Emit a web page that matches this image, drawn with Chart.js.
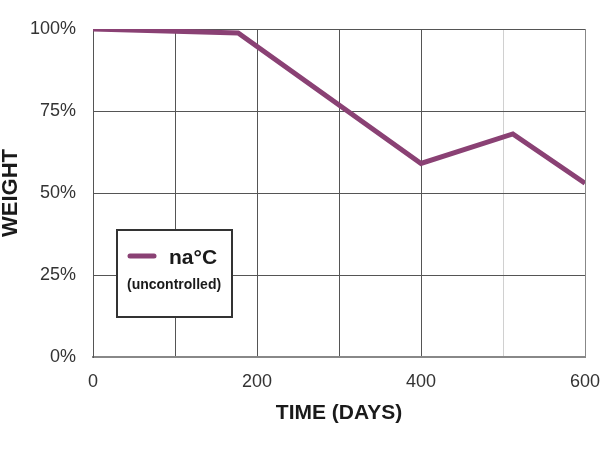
<!DOCTYPE html>
<html>
<head>
<meta charset="utf-8">
<script src="https://cdn.jsdelivr.net/npm/chart.js@4"></script>
<style>
  html, body { margin: 0; padding: 0; background: #fff; }
  #wrap { width: 600px; height: 450px; }
</style>
</head>
<body>
<div id="wrap"><canvas id="chart"></canvas></div>
<script>
// data
var days = [0, 177, 400, 512, 600];
var weight = [100, 98.8, 59, 68, 53];
var xTickLabels = [0, 200, 400, 600];
var yTicks = [0, 25, 50, 75, 100];
var seriesLabel = 'na\u00B0C';
var seriesNote = '(uncontrolled)';

var lineColor = '#8a4174';
var fontFamily = '"Liberation Sans", Arial, sans-serif';

// legend box drawn inside the plot
var boxLegend = {
    id: 'boxLegend',
    afterDraw: function(chart) {
        var ctx = chart.ctx;
        ctx.save();
        ctx.fillStyle = '#fff';
        ctx.fillRect(117, 230, 115, 87);
        ctx.strokeStyle = '#333';
        ctx.lineWidth = 2;
        ctx.strokeRect(117, 230, 115, 87);
        // sample line
        ctx.strokeStyle = lineColor;
        ctx.lineWidth = 5;
        ctx.lineCap = 'round';
        ctx.beginPath();
        ctx.moveTo(130, 256);
        ctx.lineTo(154, 256);
        ctx.stroke();
        ctx.fillStyle = '#1a1a1a';
        ctx.textBaseline = 'middle';
        ctx.textAlign = 'left';
        ctx.font = 'bold 21px ' + fontFamily;
        ctx.fillText(seriesLabel, 169, 258);
        ctx.font = 'bold 14px ' + fontFamily;
        ctx.fillText(seriesNote, 127, 285);
        ctx.restore();
    }
};

var ctx = document.getElementById('chart').getContext('2d');
var chart = new Chart(ctx, {
    type: 'line',
    data: {
        datasets: [{
            label: seriesLabel,
            data: days.map(function(d, i) { return {x: d, y: weight[i]}; }),
            borderColor: lineColor,
            borderWidth: 5,
            pointRadius: 0,
            tension: 0,
            fill: false
        }]
    },
    options: {
        responsive: true,
        maintainAspectRatio: false,
        animation: false,
        layout: { padding: { top: 29, right: 15, left: 0, bottom: 0 } },
        plugins: {
            legend: { display: false },
            tooltip: { enabled: false }
        },
        scales: {
            x: {
                type: 'linear',
                min: 0,
                max: 600,
                ticks: {
                    stepSize: 100,
                    padding: 14,
                    color: '#333',
                    font: { family: fontFamily, size: 18 },
                    maxRotation: 0,
                    autoSkip: false,
                    callback: function(v) {
                        return xTickLabels.indexOf(v) >= 0 ? String(v) : '';
                    }
                },
                grid: {
                    drawTicks: false,
                    lineWidth: 1,
                    color: function(c) {
                        if (c.tick && c.tick.value === 500) return '#d0d0d0';
                        if (c.tick && c.tick.value === 600) return '#888';
                        return '#555';
                    }
                },
                border: { color: '#888', width: 2 },
                title: {
                    display: true,
                    text: 'TIME (DAYS)',
                    color: '#1a1a1a',
                    font: { family: fontFamily, size: 21, weight: 'bold', lineHeight: 1 },
                    padding: { top: 0, bottom: 26 }
                },
                afterFit: function(scale) {
                    scale.height = 93;
                    scale.paddingLeft = 0;
                    scale.paddingRight = 0;
                }
            },
            y: {
                min: 0,
                max: 100,
                afterBuildTicks: function(scale) {
                    scale.ticks = yTicks.map(function(v) { return {value: v}; });
                },
                ticks: {
                    padding: 17,
                    color: '#333',
                    font: { family: fontFamily, size: 18 },
                    callback: function(v) { return v + '%'; }
                },
                grid: {
                    drawTicks: false,
                    color: '#555',
                    lineWidth: 1
                },
                border: { color: '#555', width: 1 },
                title: {
                    display: true,
                    text: 'WEIGHT',
                    color: '#1a1a1a',
                    font: { family: fontFamily, size: 22, weight: 'bold', lineHeight: 1 },
                    padding: { top: 0, bottom: 0 }
                },
                afterFit: function(scale) {
                    scale.width = 93;
                    scale.paddingTop = 0;
                    scale.paddingBottom = 0;
                }
            }
        }
    },
    plugins: [boxLegend]
});
</script>
</body>
</html>
